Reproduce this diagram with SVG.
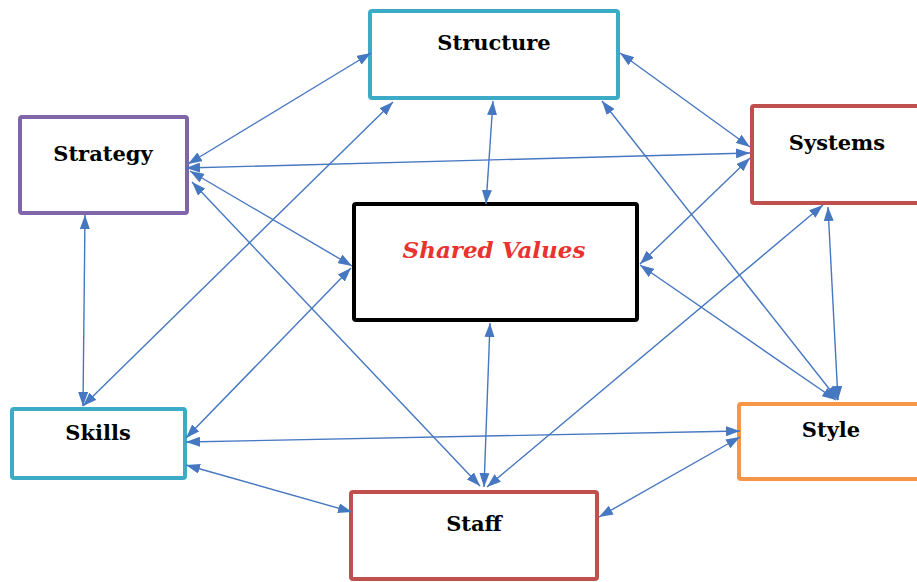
<svg xmlns="http://www.w3.org/2000/svg" width="917" height="582" viewBox="0 0 917 582">
<defs>
<marker id="ah" viewBox="0 0 14 10" refX="14" refY="5" markerWidth="14" markerHeight="10" markerUnits="userSpaceOnUse" orient="auto-start-reverse">
<path d="M0,0 L14,5 L0,10 Z" fill="#4677c1"/>
</marker>
<style>
.box{fill:#fff;stroke-width:4}
.lbl{font-family:"DejaVu Serif","Liberation Serif",serif;font-weight:bold;font-size:21px;fill:#000;text-anchor:middle}
#connectors line{stroke:#4677c1;stroke-width:1.4;marker-start:url(#ah);marker-end:url(#ah)}
</style>
</defs>
<rect width="917" height="582" fill="#fff"/>
<g id="structure"><rect class="box" x="370" y="11" width="248" height="87" rx="2" stroke="#3cacc6"/><text class="lbl" x="494" y="50">Structure</text></g>
<g id="strategy"><rect class="box" x="20" y="117" width="167" height="96" rx="2" stroke="#7f65aa"/><text class="lbl" x="103" y="161">Strategy</text></g>
<g id="systems"><rect class="box" x="752" y="106" width="170" height="97" rx="2" stroke="#c0504d"/><text class="lbl" x="837" y="150">Systems</text></g>
<g id="shared-values"><rect class="box" x="354" y="204" width="283" height="116" rx="2" stroke="#000"/><text class="lbl" x="494" y="258" style="font-style:italic;fill:#e8332f;font-size:23px">Shared Values</text></g>
<g id="skills"><rect class="box" x="12" y="409" width="173" height="69" rx="2" stroke="#3cacc6"/><text class="lbl" x="98" y="440">Skills</text></g>
<g id="style"><rect class="box" x="739" y="404" width="183" height="75" rx="2" stroke="#f79646"/><text class="lbl" x="831" y="437">Style</text></g>
<g id="staff"><rect class="box" x="351" y="492" width="246" height="87" rx="2" stroke="#c0504d"/><text class="lbl" x="474" y="531">Staff</text></g>
<g id="connectors">
<line x1="188" y1="164" x2="371" y2="53"/>
<line x1="186" y1="168" x2="750" y2="153"/>
<line x1="190" y1="171" x2="352" y2="266"/>
<line x1="192" y1="182" x2="480" y2="486"/>
<line x1="85" y1="215" x2="83" y2="406"/>
<line x1="83" y1="406" x2="393" y2="102"/>
<line x1="186" y1="438" x2="351" y2="268"/>
<line x1="186" y1="442" x2="740" y2="431"/>
<line x1="186" y1="465" x2="352" y2="512"/>
<line x1="493" y1="101" x2="486" y2="204"/>
<line x1="620" y1="53" x2="750" y2="147"/>
<line x1="602" y1="101" x2="838" y2="400"/>
<line x1="750" y1="158" x2="640" y2="264"/>
<line x1="823" y1="205" x2="487" y2="487"/>
<line x1="828" y1="207" x2="838" y2="400"/>
<line x1="836" y1="400" x2="640" y2="265"/>
<line x1="490" y1="323" x2="484" y2="487"/>
<line x1="740" y1="437" x2="599" y2="517"/>
</g>
</svg>
